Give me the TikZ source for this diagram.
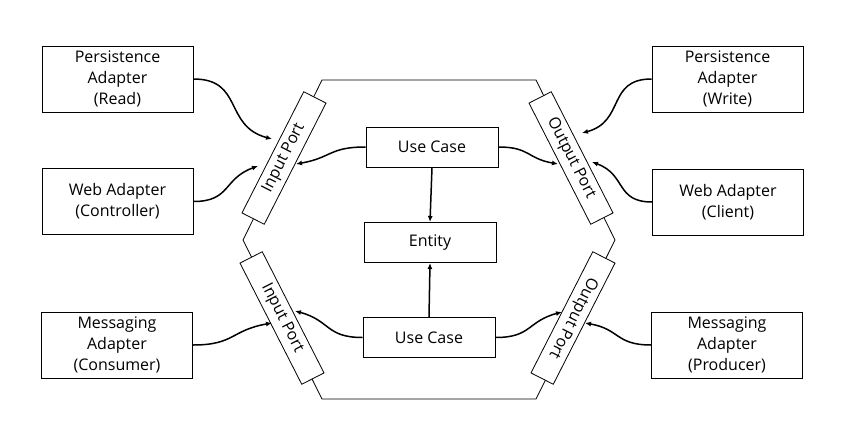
\documentclass[tikz,border=0pt]{standalone}
\usepackage{fontspec}
\setmainfont{Open Sans}
\usetikzlibrary{arrows.meta,calc}
\begin{document}
\begin{tikzpicture}[x=1pt,y=1pt,
  box/.style={draw=black,line width=1pt,fill=white,align=center,inner sep=0pt,
    font=\fontsize{16}{21}\selectfont},
  adapter/.style={box,minimum width=151pt,minimum height=66pt},
  core/.style={box,minimum width=132pt,minimum height=40pt},
  port/.style={box,line width=0.8pt,minimum width=136pt,minimum height=25pt},
  hexa/.style={draw=black,line width=0.8pt},
  conn/.style={draw=black,line width=1.5pt,-{Latex[length=6pt,width=5pt]}}
]
\useasboundingbox (0,0) rectangle (842,-439);
% hexagon
\draw[hexa] (322,-80) -- (536,-80) -- (615,-240) -- (536,-399) -- (322,-399) -- (243,-240) -- cycle;
% ports
\node[port,rotate=63]  (ip1) at (284,-158) {Input Port};
\node[port,rotate=-63] (op1) at (571,-158) {Output Port};
\node[port,rotate=-63] (ip2) at (282,-318) {Input Port};
\node[port,rotate=243] (op2) at (573,-318) {Output Port};
% adapters
\node[adapter] (pr)  at (117.5,-79)  {Persistence\\Adapter\\(Read)};
\node[adapter] (wc)  at (117.5,-201.5) {Web Adapter\\(Controller)};
\node[adapter] (mc)  at (117,-345)   {Messaging\\Adapter\\(Consumer)};
\node[adapter] (pw)  at (727.5,-79)  {Persistence\\Adapter\\(Write)};
\node[adapter] (wcl) at (728,-202)   {Web Adapter\\(Client)};
\node[adapter] (mp)  at (727,-345)   {Messaging\\Adapter\\(Producer)};
% core
\node[core] (uc1) at (432,-147)   {Use Case};
\node[core] (ent) at (430,-242.5) {Entity};
\node[core] (uc2) at (429,-337.5) {Use Case};
% arrow end points at the ports
\coordinate (t1) at (272,-139);
\coordinate (t2) at (258,-166);
\coordinate (t3) at (296,-164);
\coordinate (t4) at (558,-164);
\coordinate (t5) at (582,-133);
\coordinate (t6) at (592,-162);
\coordinate (t7) at (295,-311);
\coordinate (t8) at (562,-312);
\coordinate (t9) at (272,-323);
\coordinate (t10) at (585,-323);
% connectors
\draw[conn] (pr.east) to[out=0,in=165,looseness=1.3] (t1);
\draw[conn] (wc.east) to[out=0,in=200,looseness=1.3] (t2);
\draw[conn] (uc1.west) to[out=180,in=10,looseness=1.3] (t3);
\draw[conn] (uc1.east) to[out=0,in=170,looseness=1.3] (t4);
\draw[conn] (pw.west) to[out=180,in=15,looseness=1.3] (t5);
\draw[conn] (wcl.west) to[out=180,in=-20,looseness=1.3] (t6);
\draw[conn] (uc2.west) to[out=180,in=-15,looseness=1.3] (t7);
\draw[conn] (uc2.east) to[out=0,in=195,looseness=1.3] (t8);
\draw[conn] (mc.east) to[out=0,in=190,looseness=1.3] (t9);
\draw[conn] (mp.west) to[out=180,in=-10,looseness=1.3] (t10);
\draw[conn] (uc1.south) -- (ent.north);
\draw[conn] (uc2.north) -- (ent.south);
\end{tikzpicture}
\end{document}
